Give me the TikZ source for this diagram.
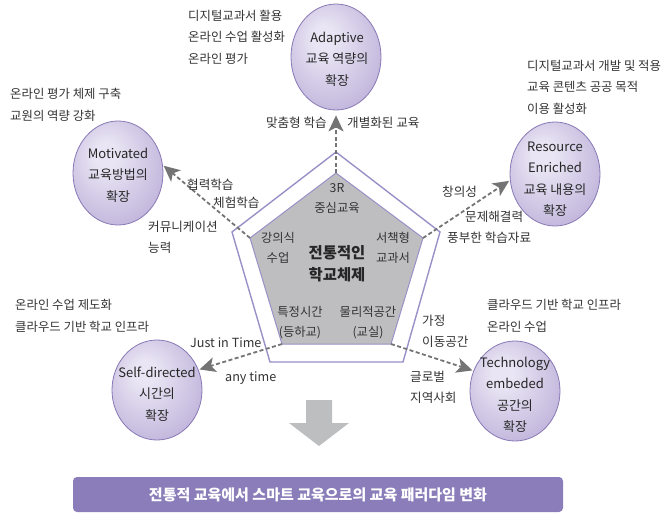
\documentclass[tikz,border=0pt]{standalone}
\usepackage{fontspec}
\setmainfont{Noto Sans CJK KR}
\usetikzlibrary{shapes.geometric,arrows.meta}
\definecolor{txt}{HTML}{333333}
\definecolor{ballin}{HTML}{EAE5F4}
\definecolor{ballmid}{HTML}{B6A9D5}
\definecolor{ballout}{HTML}{A092C8}
\definecolor{balldraw}{HTML}{8878B5}
\definecolor{pentline}{HTML}{9A90C8}
\definecolor{pentfill}{HTML}{BEBEC1}
\definecolor{arrgray}{HTML}{747474}
\definecolor{bigarrow}{HTML}{BDBEC0}
\definecolor{banner}{HTML}{8B7DB9}
\pgfdeclareradialshading{ballpurple}{\pgfpoint{-8bp}{10bp}}{color(0bp)=(ballin); color(6bp)=(ballin); color(38bp)=(ballmid); color(52bp)=(ballout)}
\begin{document}
\begin{tikzpicture}[x=1pt,y=-1pt,
  ballnode/.style={ellipse, draw=balldraw, line width=0.8pt, shade, shading=ballpurple, minimum width=90pt, minimum height=104pt, inner sep=0pt},
  balltext/.style={text=black!85, align=center, font=\fontsize{13}{21.5}\selectfont},
  note/.style={text=txt, align=left, anchor=west, inner sep=0pt, font=\fontsize{12.4}{21.5}\selectfont},
  lab/.style={text=txt, align=left, anchor=west, inner sep=0pt, font=\fontsize{12.6}{21}\selectfont},
  ptext/.style={text=txt, align=center, inner sep=0pt, font=\fontsize{12.3}{20}\selectfont},
  darrow/.style={draw=arrgray, line width=1.8pt, dash pattern=on 4pt off 2.5pt, -{Stealth[length=16pt,width=15pt,inset=4pt]}, shorten >=1pt}
]
\useasboundingbox (0,0) rectangle (662,512);
% pentagon vertices
\coordinate (o1) at (336,152);
\coordinate (o2) at (440,232);
\coordinate (o3) at (403,362);
\coordinate (o4) at (270,362);
\coordinate (o5) at (232,232);
\coordinate (i1) at (336,173);
\coordinate (i2) at (423,238);
\coordinate (i3) at (391,344);
\coordinate (i4) at (282,344);
\coordinate (i5) at (250,238);
\draw[pentline, line width=1.4pt, fill=white] (o1)--(o2)--(o3)--(o4)--(o5)--cycle;
\draw[pentline, line width=1pt, fill=pentfill] (i1)--(i2)--(i3)--(i4)--(i5)--cycle;

% balls
\node[ballnode, minimum height=106pt] (ada) at (336,57) {};
\node[ballnode] (mot) at (118,173) {};
\node[ballnode] (res) at (555,174) {};
\node[ballnode, minimum height=100pt] (self) at (157,390) {};
\node[ballnode, minimum height=100pt] (tech) at (515,391) {};

\node[balltext] (adat) at (337,59) {Adaptive\\교육 역량의\\확장};
\node[balltext] (mott) at (118,175) {Motivated\\교육방법의\\확장};
\node[balltext] (rest) at (555,179) {Resource\\Enriched\\교육 내용의\\확장};
\node[balltext] (selft) at (157,394) {Self-directed\\시간의\\확장};
\node[balltext] (techt) at (515,395) {Technology\\embeded\\공간의\\확장};

% arrows
\draw[darrow, shorten >=5pt] (i1) -- (ada.south);
\draw[darrow] (i5) -- (mot.10);
\draw[darrow] (i2) -- (res.188);
\draw[darrow] (i4) -- (self.26);
\draw[darrow] (i3) -- (tech.154);

% notes
\node[note] (adan) at (188,37) {디지털교과서 활용\\온라인 수업 활성화\\온라인 평가};
\node[note] (motn) at (10,105) {온라인 평가 체제 구축\\교원의 역량 강화};
\node[note] (resn) at (527,87) {디지털교과서 개발 및 적용\\교육 콘텐츠 공공 목적\\이용 활성화};
\node[note] (selfn) at (15,316) {온라인 수업 제도화\\클라우드 기반 학교 인프라};
\node[note] (techn) at (487,316) {클라우드 기반 학교 인프라\\온라인 수업};

% arrow labels
\node[lab, anchor=east] (l1) at (327,123) {맞춤형 학습};
\node[lab] (l2) at (347,123) {개별화된 교육};
\node[lab] (l3) at (187,185) {협력학습};
\node[lab] (l4) at (213,203) {체험학습};
\node[lab] (l5) at (148,237) {커뮤니케이션\\능력};
\node[lab] (l6) at (442,192) {창의성};
\node[lab] (l7) at (465,217) {문제해결력};
\node[lab] (l8) at (447,238) {풍부한 학습자료};
\node[lab] (l9) at (190,343) {Just in Time};
\node[lab] (l10) at (225,378) {any time};
\node[lab] (l11) at (422,331) {가정\\이동공간};
\node[lab] (l12) at (410,387) {글로벌\\지역사회};

% pentagon texts
\node[ptext] (p1) at (337,198) {3R\\중심교육};
\node[ptext] (p2) at (278,248) {강의식\\수업};
\node[ptext] (p3) at (393,248) {서책형\\교과서};
\node[ptext, font=\fontsize{15.4}{22}\selectfont\bfseries, text=black!85] (p0) at (337,264) {전통적인\\학교체제};
\node[ptext] (p4) at (300,323) {특정시간\\(등하교)};
\node[ptext] (p5) at (368,323) {물리적공간\\(교실)};

% big arrow
\fill[bigarrow] (306,400) -- (332,400) -- (332,423) -- (349,423) -- (319,446) -- (289,423) -- (306,423) -- cycle;

% banner
\node[fill=banner, rounded corners=4pt, minimum width=490pt, minimum height=35pt, inner sep=0pt, text=white, font=\fontsize{15}{17}\selectfont\bfseries] (ban) at (318,494.5) {전통적 교육에서 스마트 교육으로의 교육 패러다임 변화};
\end{tikzpicture}
\end{document}
